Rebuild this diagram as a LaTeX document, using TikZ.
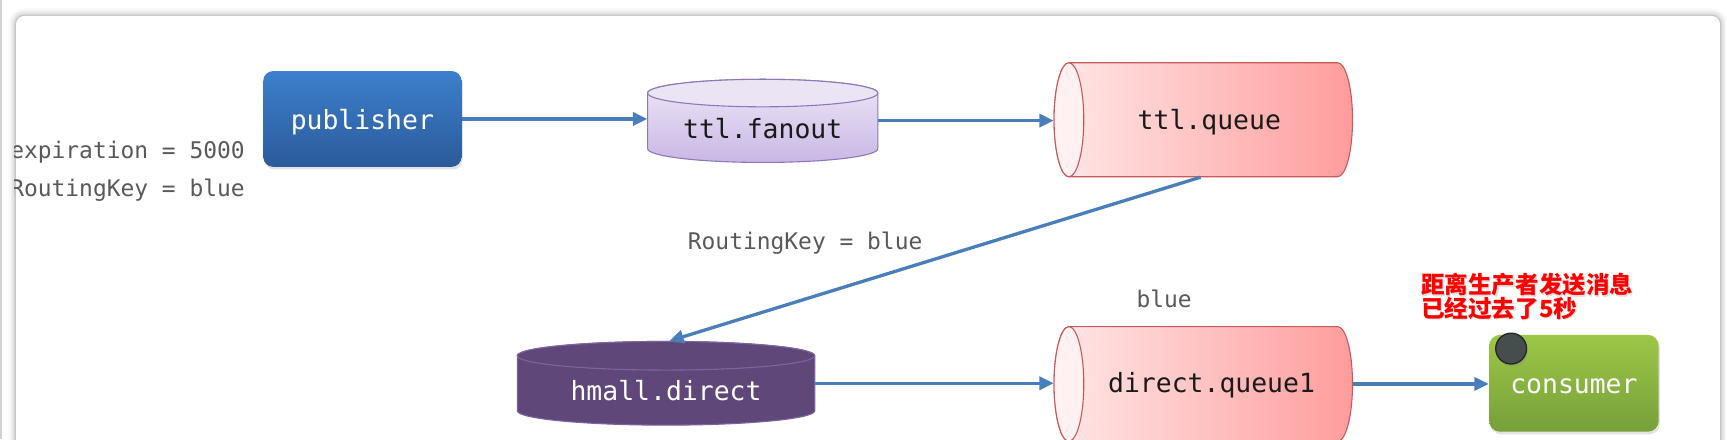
\documentclass[tikz,border=0pt]{standalone}
\usepackage{fontspec}
\newfontfamily\monofont{DejaVu Sans Mono}
\newfontfamily\cjkfont{Noto Sans CJK SC}
\usetikzlibrary{arrows.meta,shadows}
\definecolor{pubtop}{HTML}{3D7FCC}
\definecolor{pubbot}{HTML}{2B5B9A}
\definecolor{fantop}{HTML}{EEE8F7}
\definecolor{fanbot}{HTML}{C9B7E5}
\definecolor{fanend}{HTML}{EBE4F5}
\definecolor{fanborder}{HTML}{8E78B8}
\definecolor{hdfill}{HTML}{5F4879}
\definecolor{hdborder}{HTML}{7D64A0}
\definecolor{qleft}{HTML}{FFE8E8}
\definecolor{qright}{HTML}{FF9C9C}
\definecolor{qborder}{HTML}{C8595A}
\definecolor{qend}{HTML}{FFF1F1}
\definecolor{constop}{HTML}{9DC746}
\definecolor{consbot}{HTML}{76A03A}
\definecolor{dotgray}{HTML}{454D4D}
\definecolor{arrowblue}{HTML}{4A7EBB}
\definecolor{labelgray}{HTML}{595959}
\definecolor{nodetext}{HTML}{1A1A1A}
\newcommand{\lowered}[1]{\raisebox{-1.5pt}[\height][\depth]{#1}}
\begin{document}
\begin{tikzpicture}[x=0.5pt,y=-0.5pt,
  mono/.style={font=\monofont\fontsize{12}{14}\selectfont, text=nodetext},
  lbl/.style={font=\monofont\fontsize{10.4}{12}\selectfont, text=labelgray, inner sep=0pt},
  cjk/.style={font=\cjkfont\bfseries\fontsize{10.7}{12}\selectfont, inner sep=0pt},
  conn/.style={draw=arrowblue, line width=1.5pt, -{Triangle[length=6.5pt,width=6pt]}},
  boxsize/.style={inner sep=0pt, draw=none},
  softshadow/.style={drop shadow={shadow xshift=0.6pt, shadow yshift=-1.2pt, opacity=0.22}},
  qbody/.style={left color=qleft, right color=qright, draw=qborder, line width=0.5pt},
  qcap/.style={fill=qend, draw=qborder, line width=0.5pt},
]
\useasboundingbox (0,0) rectangle (1568,399);
\fill[white] (0,0) rectangle (1568,399);
\clip (0,0) rectangle (1568,399);
\draw[gray!35, line width=0.8pt] (0.8,0) -- (0.8,399);
% card
\foreach \w/\o in {7/0.025,5/0.035,3.5/0.045,2/0.06,1/0.08} {
  \draw[black, opacity=\o, line width=\w pt, rounded corners=3.75pt] (14.6,14.5) rectangle (1561.6,440);
}
\fill[white, rounded corners=3.75pt] (14.6,14.5) rectangle (1561.6,440);

% publisher
\node[boxsize, minimum width=90pt, minimum height=43.5pt, rounded corners=4.5pt,
      top color=pubtop, bottom color=pubbot, softshadow, mono, text=white] (pub) at (329,108) {\lowered{publisher}};

% ttl.fanout
\node[boxsize, minimum width=104.5pt, minimum height=38pt] (fan) at (692.5,109.5) {};
\shadedraw[top color=fantop, bottom color=fanbot, draw=fanborder, line width=0.5pt]
  (588,84.5) -- (588,135) arc[start angle=180,end angle=360,x radius=52.25pt,y radius=6.25pt]
  -- (797,84.5) arc[start angle=0,end angle=180,x radius=52.25pt,y radius=6.25pt] -- cycle;
\filldraw[fill=fanend, draw=fanborder, line width=0.5pt] (692.5,84.5) ellipse[x radius=52.25pt, y radius=6.25pt];
\node[mono] (fant) at (692.5,116.5) {ttl.fanout};

% ttl.queue
\node[boxsize, minimum width=135.5pt, minimum height=51.75pt] (tq) at (1092.5,108.75) {};
\shadedraw[qbody] (970.5,57) -- (1214.5,57) arc[start angle=90,end angle=-90,x radius=6.75pt,y radius=25.875pt]
  -- (970.5,160.5) arc[start angle=270,end angle=90,x radius=6.75pt,y radius=25.875pt] -- cycle;
\filldraw[qcap] (970.5,108.75) ellipse[x radius=6.75pt,y radius=25.875pt];
\node[mono] (tqt) at (1098,111) {ttl.queue};

% hmall.direct
\node[boxsize, minimum width=135pt, minimum height=38pt] (hd) at (604.7,348) {};
\filldraw[fill=hdfill, draw=hdborder, line width=0.5pt]
  (469.7,323) -- (469.7,373) arc[start angle=180,end angle=360,x radius=67.5pt,y radius=6.5pt]
  -- (739.7,323) arc[start angle=0,end angle=180,x radius=67.5pt,y radius=6.5pt] -- cycle;
\filldraw[fill=hdfill, draw=hdborder, line width=0.5pt] (604.7,323) ellipse[x radius=67.5pt, y radius=6.5pt];
\node[mono, text=white] (hdt) at (604.7,355) {hmall.direct};

% direct.queue1
\node[boxsize, minimum width=135.5pt, minimum height=52pt] (dq) at (1092.5,348.6) {};
\shadedraw[qbody] (970.5,296.6) -- (1214.5,296.6) arc[start angle=90,end angle=-90,x radius=6.75pt,y radius=26pt]
  -- (970.5,400.6) arc[start angle=270,end angle=90,x radius=6.75pt,y radius=26pt] -- cycle;
\filldraw[qcap] (970.5,348.6) ellipse[x radius=6.75pt,y radius=26pt];
\node[mono] (dqt) at (1100,350) {direct.queue1};

% consumer
\node[boxsize, minimum width=77pt, minimum height=44pt, rounded corners=5pt,
      top color=constop, bottom color=consbot, softshadow, mono, text=white] (cons) at (1429,348) {\lowered{consumer}};
\node[circle, minimum size=14pt, inner sep=0pt, fill=dotgray, draw=black!85, line width=0.6pt, softshadow] (dot) at (1372,316.5) {};

% labels
\begin{scope}
\clip (13,0) rectangle (300,399);
\node[lbl, anchor=east] (exp) at (222.6,138) {expiration = 5000};
\node[lbl, anchor=east] (rk1) at (222.6,173) {RoutingKey = blue};
\end{scope}
\node[lbl] (rk2) at (731,221) {RoutingKey = blue};
\node[lbl] (bl) at (1057,271.5) {blue};

% note
\node[cjk, anchor=west, text=black, opacity=0.12] (n1s) at (1291,259.8) {距离生产者发送消息};
\node[cjk, anchor=west, text=black, opacity=0.12] (n2s) at (1291,281) {已经过去了5秒};
\node[cjk, anchor=west, text=red] (n1) at (1290,258.8) {距离生产者发送消息};
\node[cjk, anchor=west, text=red] (n2) at (1290,280) {已经过去了5秒};

% connectors
\draw[conn] (pub.east) -- (pub.east -| fan.west);
\draw[conn] (fan.east) -- (fan.east -| tq.west);
\draw[conn] ([xshift=-1.25pt]tq.south) -- ([xshift=1.5pt]hd.north);
\draw[conn] (hd.east) -- (hd.east -| dq.west);
\draw[conn] (dq.east) -- (dq.east -| cons.west);
\end{tikzpicture}
\end{document}
